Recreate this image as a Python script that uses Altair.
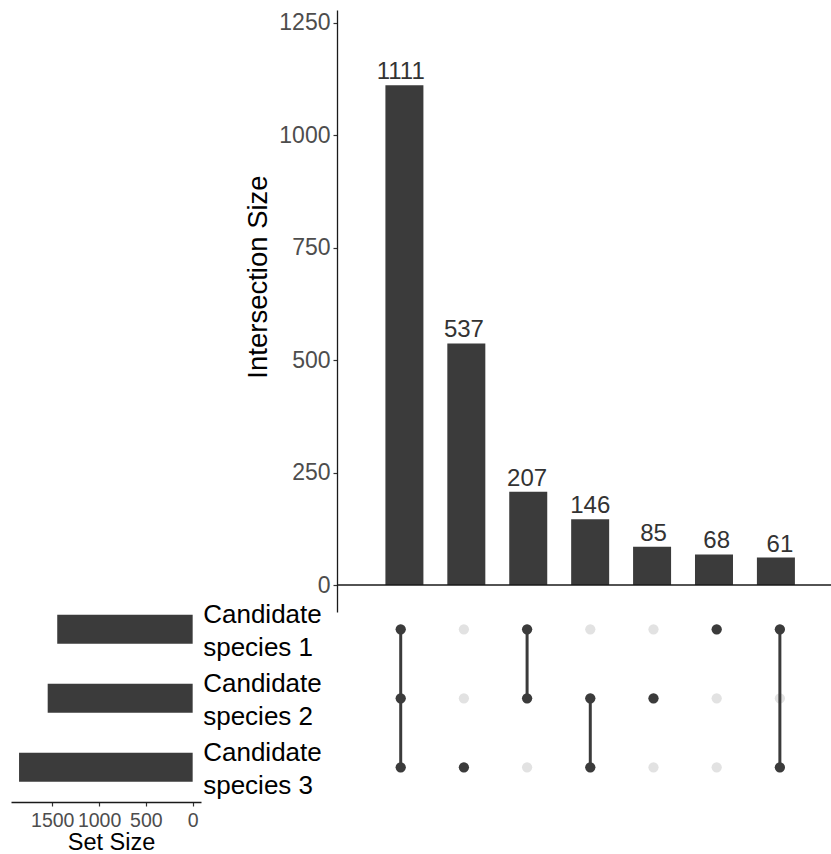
import altair as alt
import pandas as pd

# ---- data -------------------------------------------------------------
SETS = ["Candidate species 1", "Candidate species 2", "Candidate species 3"]
SET_SIZES = [1447, 1549, 1855]

# intersections, in plotted order (left to right)
COMBOS = [
    ["Candidate species 1", "Candidate species 2", "Candidate species 3"],
    ["Candidate species 3"],
    ["Candidate species 1", "Candidate species 2"],
    ["Candidate species 2", "Candidate species 3"],
    ["Candidate species 2"],
    ["Candidate species 1"],
    ["Candidate species 1", "Candidate species 3"],
]
COUNTS = [1111, 537, 207, 146, 85, 68, 61]

Y_TICKS = [0, 250, 500, 750, 1000, 1250]
SET_SIZE_TICKS = [0, 500, 1000, 1500]

# ---- scales -----------------------------------------------------------
X_DOMAIN = [-0.008, 7.809]
x_main = alt.Scale(domain=X_DOMAIN, nice=False, zero=False)
y_main = alt.Scale(domain=[-60, 1278], nice=False, zero=False)
row_scale = alt.Scale(type="point", domain=SETS, range=[619.3, 757.3], padding=0)
size_scale = alt.Scale(domain=[-89, 1941], range=[-136, -326], nice=False, zero=False)

# ---- tables -----------------------------------------------------------
inter = pd.DataFrame(
    {"idx": list(range(1, len(COUNTS) + 1)), "count": COUNTS, "base": 0}
)

cells = pd.DataFrame(
    [
        {"idx": i + 1, "set": s, "active": s in combo}
        for i, combo in enumerate(COMBOS)
        for s in SETS
    ]
)
active_cells = cells[cells["active"]]

links = pd.DataFrame(
    [
        {
            "idx": i + 1,
            "y_start": min(combo, key=SETS.index),
            "y_end": max(combo, key=SETS.index),
        }
        for i, combo in enumerate(COMBOS)
        if len(combo) > 1
    ]
)

sets_df = pd.DataFrame({"set": SETS, "size": SET_SIZES, "base": 0})

axis_line = pd.DataFrame({"x0": [X_DOMAIN[0]], "x1": [X_DOMAIN[1]], "y": [0]})

# ---- style ------------------------------------------------------------
FONT = "Liberation Sans"
DARK = "#3b3b3b"
LIGHT = "#e2e2e2"

y_axis = alt.Axis(
    values=Y_TICKS,
    format="d",
    title="Intersection Size",
    grid=False,
    domainColor="#1a1a1a",
    domainWidth=1.3,
    tickColor="#333333",
    tickWidth=1.2,
    tickSize=4,
    labelPadding=3,
    labelFont=FONT,
    labelFontSize=23,
    labelColor="#4d4d4d",
    titleFont=FONT,
    titleFontSize=27.5,
    titleFontWeight="normal",
    titleColor="black",
    titlePadding=6,
    titleY=266.5,
)

# ---- intersection size bars --------------------------------------------
bars = alt.Chart(inter).mark_bar(size=38, color=DARK).encode(
    x=alt.X("idx:Q", scale=x_main, axis=None),
    y=alt.Y("count:Q", scale=y_main, axis=y_axis),
    y2="base:Q",
)

bar_labels = alt.Chart(inter).mark_text(
    dy=-6, baseline="alphabetic", font=FONT, fontSize=24, color="#333333"
).encode(
    x=alt.X("idx:Q", scale=x_main, axis=None),
    y=alt.Y("count:Q", scale=y_main, axis=None),
    text="count:Q",
)

baseline = alt.Chart(axis_line).mark_rule(color="#1a1a1a", strokeWidth=1.3).encode(
    x=alt.X("x0:Q", scale=x_main, axis=None),
    x2="x1:Q",
    y=alt.Y("y:Q", scale=y_main, axis=None),
)

# ---- intersection matrix -------------------------------------------------
bg_dots = alt.Chart(cells).mark_circle(size=105, color=LIGHT, opacity=1).encode(
    x=alt.X("idx:Q", scale=x_main, axis=None),
    y=alt.Y("set:N", scale=row_scale, axis=None),
)

link_lines = alt.Chart(links).mark_rule(strokeWidth=3, color=DARK).encode(
    x=alt.X("idx:Q", scale=x_main, axis=None),
    y=alt.Y("y_start:N", scale=row_scale, axis=None),
    y2="y_end:N",
)

on_dots = alt.Chart(active_cells).mark_circle(size=105, color=DARK, opacity=1).encode(
    x=alt.X("idx:Q", scale=x_main, axis=None),
    y=alt.Y("set:N", scale=row_scale, axis=None),
)

# ---- set size bars ---------------------------------------------------
set_bars = alt.Chart(sets_df).mark_bar(size=29, color=DARK).encode(
    y=alt.Y(
        "set:N",
        scale=row_scale,
        axis=alt.Axis(
            orient="right",
            offset=-638.3,
            domain=False,
            ticks=False,
            grid=False,
            title=None,
            labelAlign="left",
            labelBaseline="middle",
            labelOffset=-14.5,
            labelPadding=10,
            labelFont=FONT,
            labelFontSize=26,
            labelColor="black",
            labelLineHeight=33,
            labelLimit=0,
            labelExpr="[slice(datum.label, 0, indexof(datum.label, ' ')), "
            "slice(datum.label, indexof(datum.label, ' ') + 1)]",
        ),
    ),
    x=alt.X(
        "size:Q",
        scale=size_scale,
        axis=alt.Axis(
            orient="bottom",
            offset=190,
            values=SET_SIZE_TICKS,
            format="d",
            labelOverlap=False,
            title="Set Size",
            grid=False,
            domainColor="#1a1a1a",
            domainWidth=1.3,
            tickColor="#333333",
            tickWidth=1.2,
            tickSize=4,
            labelPadding=5,
            labelFont=FONT,
            labelFontSize=19.5,
            labelColor="#4d4d4d",
            titleFont=FONT,
            titleFontSize=23.5,
            titleFontWeight="normal",
            titleColor="black",
            titlePadding=1,
            titleX=-226,
        ),
    ),
    x2="base:Q",
)

chart = (
    alt.layer(bars, baseline, bar_labels, bg_dots, link_lines, on_dots, set_bars)
    .resolve_scale(x="independent", y="independent")
    .resolve_axis(x="independent", y="independent")
    .properties(
        width=494,
        height=602,
        autosize=alt.AutoSizeParams(type="none"),
        padding={"left": 337, "top": 10, "right": 0, "bottom": 242},
        background="white",
    )
    .configure_view(strokeWidth=0)
)

chart.save("out.html", embed_options={"renderer": "svg", "actions": False})
